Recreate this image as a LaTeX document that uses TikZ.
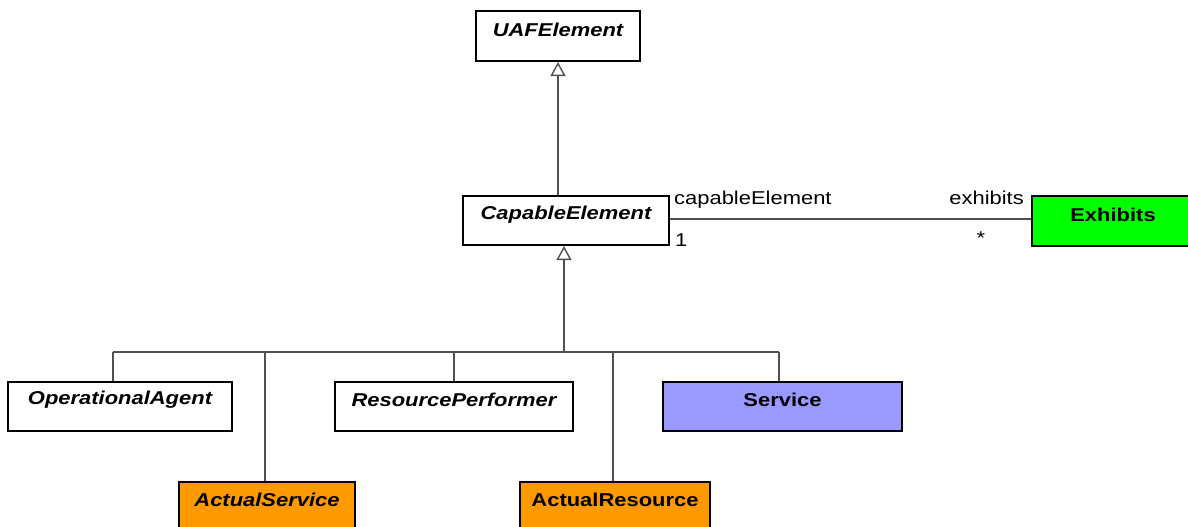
\documentclass[tikz,border=0pt]{standalone}
\usepackage{fontspec}
\setmainfont[FakeStretch=1.18]{Liberation Sans}
\usetikzlibrary{arrows.meta}
\definecolor{gfill}{HTML}{00FF00}
\definecolor{sfill}{HTML}{9999FF}
\definecolor{ofill}{HTML}{FF9900}
\definecolor{lgray}{HTML}{505050}
\tikzset{
  cls/.style={draw=black, line width=2pt, rectangle, inner sep=0pt, anchor=north west},
  lbl/.style={font=\fontsize{18.6}{20}\selectfont\bfseries, inner sep=0pt},
  albl/.style={font=\fontsize{18.6}{20}\selectfont, inner sep=0pt},
  conn/.style={draw=lgray, line width=1.8pt},
  gen/.style={conn, -{Triangle[open, width=15pt, length=14pt, line width=1.4pt]}}
}
\begin{document}
\begin{tikzpicture}[x=1pt, y=-1pt]
\useasboundingbox (0,0) rectangle (1188,527);
% boxes
\node[cls, minimum width=164pt, minimum height=50pt] (u) at (475,10) {};
\node[cls, minimum width=206pt, minimum height=49pt] (c) at (462,195) {};
\node[cls, fill=gfill, minimum width=158pt, minimum height=50pt] (e) at (1031,195) {};
\node[cls, minimum width=224pt, minimum height=49pt] (oa) at (7,381) {};
\node[cls, minimum width=238pt, minimum height=49pt] (rp) at (334,381) {};
\node[cls, fill=sfill, minimum width=239pt, minimum height=49pt] (sv) at (662,381) {};
\node[cls, fill=ofill, minimum width=176pt, minimum height=50pt] (as) at (178,481) {};
\node[cls, fill=ofill, minimum width=190pt, minimum height=50pt] (ar) at (519,481) {};
% labels
\node[lbl] (ut) at ([yshift=-20]u.north) {\itshape UAFElement};
\node[lbl] (ct) at ([yshift=-20]c.north) {\itshape CapableElement};
\node[lbl] (et) at ([xshift=2,yshift=-20]e.north) {Exhibits};
\node[lbl] (oat) at ([yshift=-19]oa.north) {\itshape OperationalAgent};
\node[lbl] (rpt) at ([yshift=-19]rp.north) {\itshape ResourcePerformer};
\node[lbl] (svt) at ([yshift=-19]sv.north) {Service};
\node[lbl] (ast) at ([yshift=-19]as.north) {\itshape ActualService};
\node[lbl] (art) at ([yshift=-19]ar.north) {ActualResource};
% generalizations
\draw[gen] (c.north -| u.south) -- (u.south);
\coordinate (j) at (564,352);
\draw[gen] (j) -- (j |- c.south);
\coordinate (jl) at (113,352);
\coordinate (jr) at (779,352);
\draw[conn] (jl) -- (jr);
\draw[conn] (jl) -- (jl |- oa.north);
\draw[conn] (265,352) -- (265,352 |- as.north);
\draw[conn] (rp.north) -- (rp.north |- j);
\draw[conn] (613,352) -- (613,352 |- ar.north);
\draw[conn] (jr) -- (jr |- sv.north);
% association
\draw[conn] (c.east |- 0,219) -- (e.west |- 0,219);
\node[albl, anchor=base west] (r1) at (674,204) {capableElement};
\node[albl, anchor=base west] (m1) at (675,246) {1};
\node[albl, anchor=base east] (r2) at (1024,204) {exhibits};
\node[albl, anchor=base] (m2) at (981,244) {*};
\end{tikzpicture}
\end{document}
